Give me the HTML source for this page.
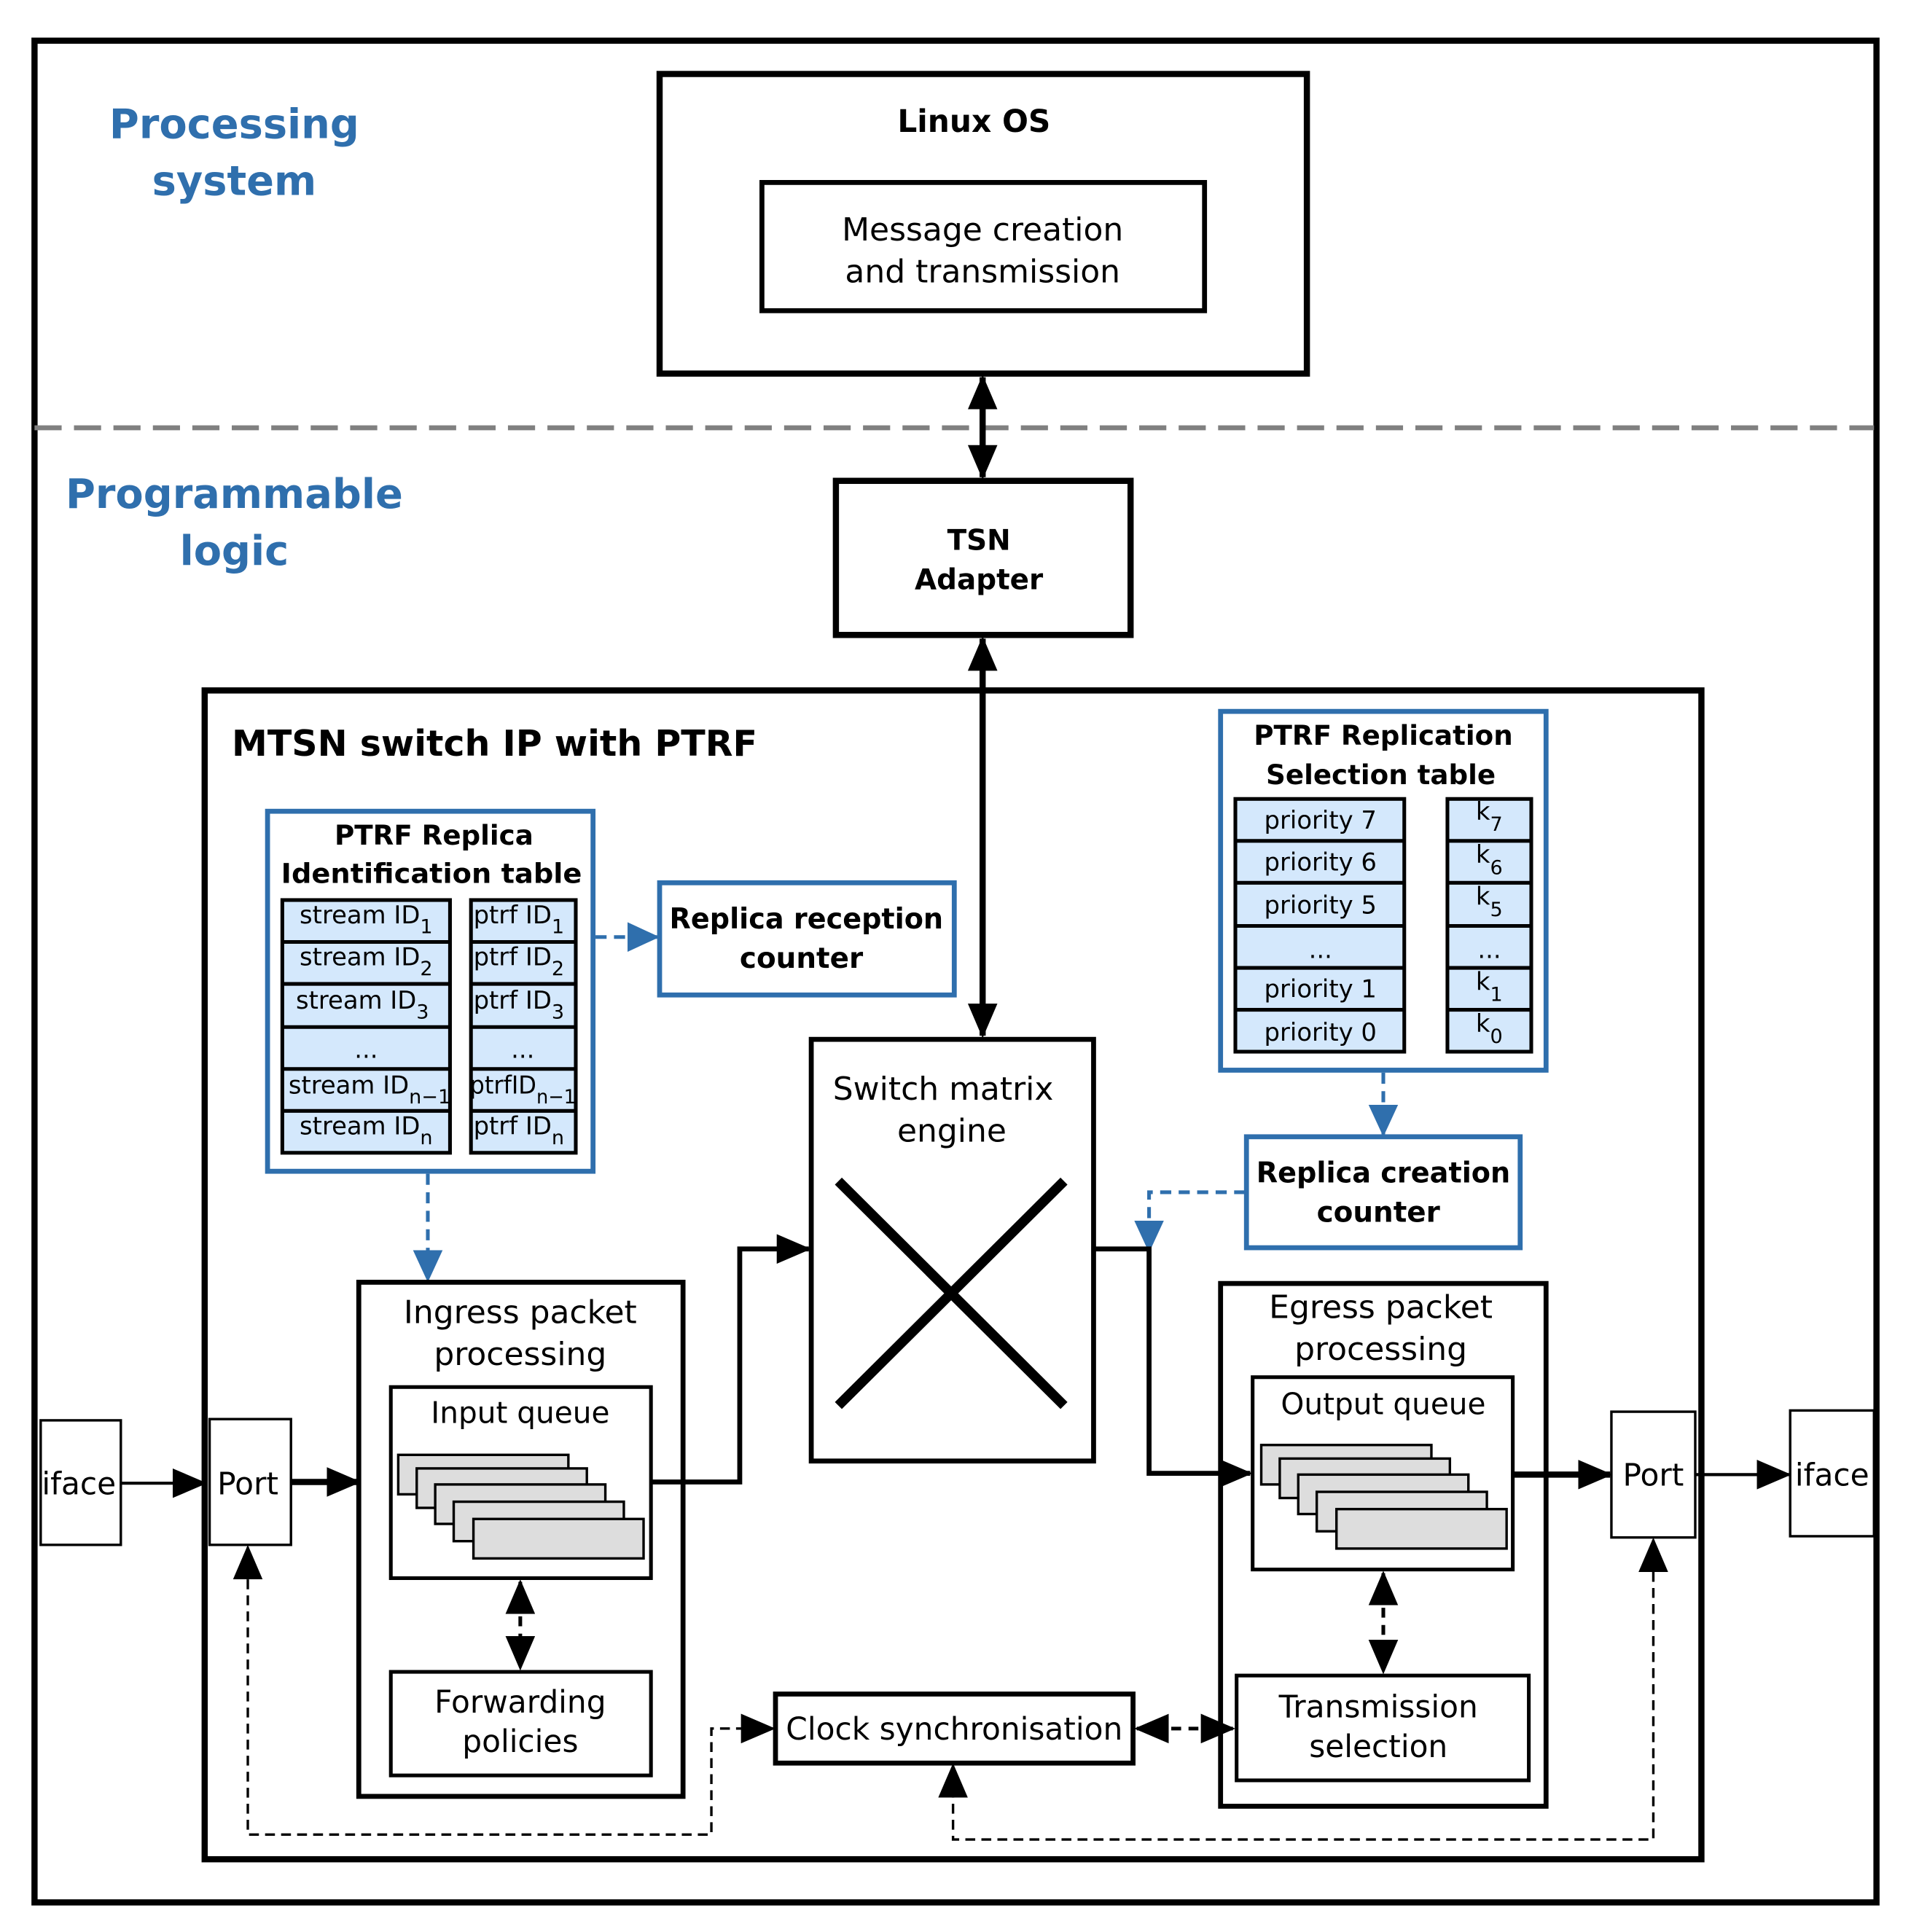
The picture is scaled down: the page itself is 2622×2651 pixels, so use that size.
<!DOCTYPE html>
<html><head><meta charset="utf-8"><style>
html,body{margin:0;padding:0;background:#fff}
svg{display:block}
text{font-family:"DejaVu Sans","Liberation Sans",sans-serif;fill:#000}
.b{font-weight:bold}
.c{text-anchor:middle}
.bl{fill:#2f6fad}
</style></head><body>
<svg width="2622" height="2651" viewBox="0 0 1550 1567" preserveAspectRatio="none" xmlns="http://www.w3.org/2000/svg">
<defs>
<marker id="a" markerUnits="userSpaceOnUse" markerWidth="28" markerHeight="24" refX="26" refY="12" orient="auto"><path d="M0,0 L28,12 L0,24 z" fill="#000"/></marker>
<marker id="as" markerUnits="userSpaceOnUse" markerWidth="28" markerHeight="24" refX="2" refY="12" orient="auto"><path d="M28,0 L0,12 L28,24 z" fill="#000"/></marker>
<marker id="ab" markerUnits="userSpaceOnUse" markerWidth="26" markerHeight="24" refX="24" refY="12" orient="auto"><path d="M0,0 L26,12 L0,24 z" fill="#2f6fad"/></marker>
<g id="stack">
<rect x="0" y="0" width="138" height="32" fill="#ddd" stroke="#000" stroke-width="2"/>
<rect x="15" y="11" width="138" height="32" fill="#ddd" stroke="#000" stroke-width="2"/>
<rect x="30" y="24" width="138" height="32" fill="#ddd" stroke="#000" stroke-width="2"/>
<rect x="45" y="38" width="138" height="32" fill="#ddd" stroke="#000" stroke-width="2"/>
<rect x="61" y="52" width="138" height="32" fill="#ddd" stroke="#000" stroke-width="2"/>
</g>
</defs>
<rect width="1550" height="1567" fill="#fff"/>
<rect x="28" y="33" width="1494" height="1510" fill="none" stroke="#000" stroke-width="5"/>
<line x1="28" y1="347" x2="1520" y2="347" stroke="#808080" stroke-width="4" stroke-dasharray="22,10"/>
<text class="b c bl" x="190" y="112" font-size="33">Processing</text>
<text class="b c bl" x="190" y="158" font-size="33">system</text>
<text class="b c bl" x="190" y="412" font-size="33">Programmable</text>
<text class="b c bl" x="190" y="458" font-size="33">logic</text>

<rect x="535" y="60" width="525" height="243" fill="none" stroke="#000" stroke-width="5"/>
<text class="b c" x="790" y="107" font-size="25">Linux OS</text>
<rect x="618" y="148" width="359" height="104" fill="none" stroke="#000" stroke-width="4"/>
<text class="c" x="797" y="195" font-size="26">Message creation</text>
<text class="c" x="797" y="229" font-size="26">and transmission</text>
<line x1="797" y1="306" x2="797" y2="387" stroke="#000" stroke-width="5" marker-start="url(#as)" marker-end="url(#a)"/>
<rect x="678" y="390" width="239" height="125" fill="none" stroke="#000" stroke-width="5"/>
<text class="b c" x="794" y="446" font-size="23">TSN</text>
<text class="b c" x="794" y="478" font-size="23">Adapter</text>
<line x1="797" y1="518" x2="797" y2="840" stroke="#000" stroke-width="5" marker-start="url(#as)" marker-end="url(#a)"/>

<rect x="166" y="560" width="1214" height="948" fill="none" stroke="#000" stroke-width="5"/>
<text class="b" x="188" y="613" font-size="29">MTSN switch IP with PTRF</text>

<rect x="217" y="658" width="264" height="292" fill="none" stroke="#2f6fad" stroke-width="4"/>
<text class="b c" x="352" y="685" font-size="22">PTRF Replica</text>
<text class="b c" x="350" y="716" font-size="22" textLength="244" lengthAdjust="spacingAndGlyphs">Identification table</text>
<g stroke="#000" stroke-width="3" fill="#d4e8fc">
<rect x="229" y="730" width="136" height="205"/><rect x="382" y="730" width="85" height="205"/>
<line x1="229" y1="764" x2="365" y2="764"/><line x1="229" y1="798" x2="365" y2="798"/><line x1="229" y1="833" x2="365" y2="833"/><line x1="229" y1="867" x2="365" y2="867"/><line x1="229" y1="901" x2="365" y2="901"/>
<line x1="382" y1="764" x2="467" y2="764"/><line x1="382" y1="798" x2="467" y2="798"/><line x1="382" y1="833" x2="467" y2="833"/><line x1="382" y1="867" x2="467" y2="867"/><line x1="382" y1="901" x2="467" y2="901"/>
</g>
<g font-size="20">
<text x="243" y="749">stream ID<tspan font-size="16" dy="8">1</tspan></text>
<text x="243" y="783">stream ID<tspan font-size="16" dy="8">2</tspan></text>
<text x="240" y="818">stream ID<tspan font-size="16" dy="8">3</tspan></text>
<text class="c" x="297" y="858">...</text>
<text x="234" y="887">stream ID<tspan font-size="16" dy="8">n−1</tspan></text>
<text x="243" y="920">stream ID<tspan font-size="16" dy="8">n</tspan></text>
<text x="384" y="749">ptrf ID<tspan font-size="16" dy="8">1</tspan></text>
<text x="384" y="783">ptrf ID<tspan font-size="16" dy="8">2</tspan></text>
<text x="384" y="818">ptrf ID<tspan font-size="16" dy="8">3</tspan></text>
<text class="c" x="424" y="858">...</text>
<text x="381" y="887" textLength="86" lengthAdjust="spacingAndGlyphs">ptrfID<tspan font-size="16" dy="8">n−1</tspan></text>
<text x="384" y="920">ptrf ID<tspan font-size="16" dy="8">n</tspan></text>
</g>
<line x1="483" y1="760" x2="533" y2="760" stroke="#2f6fad" stroke-width="3" stroke-dasharray="9,6" marker-end="url(#ab)"/>
<rect x="535" y="716" width="239" height="91" fill="none" stroke="#2f6fad" stroke-width="4"/>
<text class="b c" x="654" y="753" font-size="23" textLength="222" lengthAdjust="spacingAndGlyphs">Replica reception</text>
<text class="b c" x="650" y="785" font-size="23">counter</text>
<line x1="347" y1="952" x2="347" y2="1038" stroke="#2f6fad" stroke-width="3" stroke-dasharray="9,6" marker-end="url(#ab)"/>

<rect x="990" y="577" width="264" height="291" fill="none" stroke="#2f6fad" stroke-width="4"/>
<text class="b c" x="1122" y="604" font-size="22">PTRF Replication</text>
<text class="b c" x="1120" y="636" font-size="22">Selection table</text>
<g stroke="#000" stroke-width="3" fill="#d4e8fc">
<rect x="1002" y="648" width="137" height="205"/><rect x="1174" y="648" width="68" height="205"/>
<line x1="1002" y1="682" x2="1139" y2="682"/><line x1="1002" y1="716" x2="1139" y2="716"/><line x1="1002" y1="751" x2="1139" y2="751"/><line x1="1002" y1="785" x2="1139" y2="785"/><line x1="1002" y1="819" x2="1139" y2="819"/>
<line x1="1174" y1="682" x2="1242" y2="682"/><line x1="1174" y1="716" x2="1242" y2="716"/><line x1="1174" y1="751" x2="1242" y2="751"/><line x1="1174" y1="785" x2="1242" y2="785"/><line x1="1174" y1="819" x2="1242" y2="819"/>
</g>
<g font-size="20">
<text class="c" x="1071" y="672">priority 7</text>
<text class="c" x="1071" y="706">priority 6</text>
<text class="c" x="1071" y="741">priority 5</text>
<text class="c" x="1071" y="777">...</text>
<text class="c" x="1071" y="809">priority 1</text>
<text class="c" x="1071" y="844">priority 0</text>
<text x="1197" y="665">k<tspan font-size="16" dy="9">7</tspan></text>
<text x="1197" y="700">k<tspan font-size="16" dy="9">6</tspan></text>
<text x="1197" y="734">k<tspan font-size="16" dy="9">5</tspan></text>
<text class="c" x="1208" y="777">...</text>
<text x="1197" y="803">k<tspan font-size="16" dy="9">1</tspan></text>
<text x="1197" y="837">k<tspan font-size="16" dy="9">0</tspan></text>
</g>
<line x1="1122" y1="870" x2="1122" y2="920" stroke="#2f6fad" stroke-width="3" stroke-dasharray="9,6" marker-end="url(#ab)"/>
<rect x="1011" y="922" width="222" height="90" fill="none" stroke="#2f6fad" stroke-width="4"/>
<text class="b c" x="1122" y="959" font-size="23" textLength="206" lengthAdjust="spacingAndGlyphs">Replica creation</text>
<text class="b c" x="1118" y="991" font-size="23">counter</text>
<polyline points="1010,967 932,967 932,1014" fill="none" stroke="#2f6fad" stroke-width="3" stroke-dasharray="9,6" marker-end="url(#ab)"/>

<rect x="658" y="843" width="229" height="342" fill="none" stroke="#000" stroke-width="4"/>
<text class="c" x="765" y="892" font-size="26">Switch matrix</text>
<text class="c" x="772" y="926" font-size="26">engine</text>
<line x1="680" y1="958" x2="863" y2="1140" stroke="#000" stroke-width="8"/>
<line x1="863" y1="958" x2="680" y2="1140" stroke="#000" stroke-width="8"/>

<rect x="291" y="1040" width="263" height="417" fill="none" stroke="#000" stroke-width="4"/>
<text class="c" x="422" y="1073" font-size="26">Ingress packet</text>
<text class="c" x="422" y="1107" font-size="26">processing</text>
<rect x="317" y="1125" width="211" height="155" fill="none" stroke="#000" stroke-width="3"/>
<text class="c" x="422" y="1154" font-size="24">Input queue</text>
<use href="#stack" x="323" y="1180"/>
<rect x="317" y="1356" width="211" height="84" fill="none" stroke="#000" stroke-width="3"/>
<text class="c" x="422" y="1389" font-size="25">Forwarding</text>
<text class="c" x="422" y="1421" font-size="25">policies</text>
<line x1="422" y1="1283" x2="422" y2="1353" stroke="#000" stroke-width="3" stroke-dasharray="8,6" marker-start="url(#as)" marker-end="url(#a)"/>

<rect x="990" y="1041" width="264" height="424" fill="none" stroke="#000" stroke-width="4"/>
<text class="c" x="1120" y="1069" font-size="26">Egress packet</text>
<text class="c" x="1120" y="1103" font-size="26">processing</text>
<rect x="1016" y="1117" width="211" height="156" fill="none" stroke="#000" stroke-width="3"/>
<text class="c" x="1122" y="1147" font-size="24">Output queue</text>
<use href="#stack" x="1023" y="1172"/>
<rect x="1003" y="1359" width="237" height="85" fill="none" stroke="#000" stroke-width="3"/>
<text class="c" x="1118" y="1393" font-size="25">Transmission</text>
<text class="c" x="1118" y="1425" font-size="25">selection</text>
<line x1="1122" y1="1276" x2="1122" y2="1356" stroke="#000" stroke-width="3" stroke-dasharray="8,6" marker-start="url(#as)" marker-end="url(#a)"/>

<rect x="629" y="1374" width="290" height="56" fill="none" stroke="#000" stroke-width="4"/>
<text class="c" x="774" y="1411" font-size="25">Clock synchronisation</text>
<line x1="922" y1="1402" x2="1000" y2="1402" stroke="#000" stroke-width="3" stroke-dasharray="8,6" marker-start="url(#as)" marker-end="url(#a)"/>

<rect x="33" y="1152" width="65" height="101" fill="none" stroke="#000" stroke-width="2"/>
<text class="c" x="64" y="1212" font-size="25">iface</text>
<line x1="98" y1="1203" x2="166" y2="1203" stroke="#000" stroke-width="2.5" marker-end="url(#a)"/>
<rect x="170" y="1151" width="66" height="102" fill="none" stroke="#000" stroke-width="2"/>
<text class="c" x="201" y="1212" font-size="25">Port</text>
<line x1="236" y1="1202" x2="291" y2="1202" stroke="#000" stroke-width="5" marker-end="url(#a)"/>
<rect x="1307" y="1145" width="68" height="102" fill="none" stroke="#000" stroke-width="2"/>
<text class="c" x="1341" y="1205" font-size="25">Port</text>
<rect x="1452" y="1144" width="68" height="102" fill="none" stroke="#000" stroke-width="2"/>
<text class="c" x="1486" y="1205" font-size="25">iface</text>
<line x1="1375" y1="1196" x2="1451" y2="1196" stroke="#000" stroke-width="2.5" marker-end="url(#a)"/>
<line x1="1227" y1="1196" x2="1306" y2="1196" stroke="#000" stroke-width="5" marker-end="url(#a)"/>

<polyline points="528,1202 600,1202 600,1013 656,1013" fill="none" stroke="#000" stroke-width="4" marker-end="url(#a)"/>
<polyline points="887,1013 932,1013 932,1195 1014,1195" fill="none" stroke="#000" stroke-width="4" marker-end="url(#a)"/>

<polyline points="201,1255 201,1488 577,1488 577,1402 627,1402" fill="none" stroke="#000" stroke-width="2" stroke-dasharray="8,5" marker-start="url(#as)" marker-end="url(#a)"/>
<polyline points="1341,1249 1341,1492 773,1492 773,1432" fill="none" stroke="#000" stroke-width="2" stroke-dasharray="8,5" marker-start="url(#as)" marker-end="url(#a)"/>
</svg>
</body></html>
